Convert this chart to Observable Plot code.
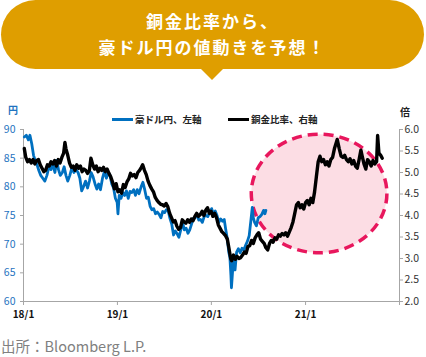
<!DOCTYPE html>
<html><head><meta charset="utf-8">
<script src="https://cdn.jsdelivr.net/npm/d3@7"></script>
<script src="https://cdn.jsdelivr.net/npm/@observablehq/plot@0.6"></script>
<style>
body{margin:0;background:#fff;font-family:"Noto Sans CJK JP","Noto Sans",sans-serif;}
#wrap{position:relative;width:426px;height:357px;overflow:hidden;}
#bubble{position:absolute;left:1px;top:0;width:423px;height:69px;background:#DF9E00;border-radius:35px;color:#fff;font-weight:700;font-size:17px;letter-spacing:2px;text-align:center;line-height:26px;padding-top:8px;box-sizing:border-box;}
#ptr{position:absolute;left:200px;top:68px;width:0;height:0;border-left:12px solid transparent;border-right:12px solid transparent;border-top:12px solid #DF9E00;}
#chart{position:absolute;left:0;top:100px;}
.lg{position:absolute;font-size:9.5px;font-weight:700;color:#222;line-height:12px;white-space:nowrap;}
.sw{position:absolute;height:3px;}
.unit{position:absolute;font-size:10px;font-weight:700;line-height:12px;}
#cap{position:absolute;left:1px;top:337px;font-size:14.5px;color:#808080;line-height:18px;white-space:nowrap;}
</style></head>
<body>
<div id="wrap">
  <div id="bubble">銅金比率から、<br>豪ドル円の値動きを予想！</div>
  <div id="ptr"></div>
  <div id="chart"></div>
  <div class="unit" style="left:8px;top:104px;color:#1F73C0">円</div>
  <div class="unit" style="left:400px;top:106px;color:#222">倍</div>
  <div class="sw" style="left:112px;top:118px;width:21px;background:#0070C0"></div>
  <div class="lg" style="left:135px;top:113px" id="lg1"></div>
  <div class="sw" style="left:228px;top:118px;width:21px;background:#000"></div>
  <div class="lg" style="left:251px;top:113px" id="lg2"></div>
  <div id="cap">出所：Bloomberg L.P.</div>
</div>
<script>
// Series names
const seriesNames = ["豪ドル円、左軸", "銅金比率、右軸"];
// AUD/JPY (left axis)
const audDates = ["2018-01-04","2018-01-12","2018-01-20","2018-01-26","2018-02-02","2018-02-09","2018-02-16","2018-02-23","2018-03-02","2018-03-09","2018-03-17","2018-03-25","2018-04-02","2018-04-10","2018-04-18","2018-04-25","2018-05-03","2018-05-10","2018-05-17","2018-05-24","2018-06-01","2018-06-08","2018-06-15","2018-06-22","2018-06-30","2018-07-08","2018-07-16","2018-07-24","2018-08-01","2018-08-08","2018-08-15","2018-08-22","2018-08-30","2018-09-07","2018-09-14","2018-09-21","2018-09-28","2018-10-06","2018-10-13","2018-10-20","2018-10-27","2018-11-04","2018-11-12","2018-11-19","2018-11-26","2018-12-03","2018-12-10","2018-12-17","2018-12-24","2018-12-31","2019-01-03","2019-01-08","2019-01-15","2019-01-22","2019-01-29","2019-02-05","2019-02-12","2019-02-19","2019-02-26","2019-03-05","2019-03-12","2019-03-19","2019-03-26","2019-04-03","2019-04-10","2019-04-17","2019-04-24","2019-05-01","2019-05-08","2019-05-15","2019-05-22","2019-05-29","2019-06-05","2019-06-12","2019-06-19","2019-06-26","2019-07-03","2019-07-10","2019-07-17","2019-07-24","2019-07-31","2019-08-07","2019-08-14","2019-08-21","2019-08-28","2019-09-04","2019-09-11","2019-09-18","2019-09-25","2019-10-02","2019-10-09","2019-10-16","2019-10-23","2019-10-30","2019-11-06","2019-11-13","2019-11-20","2019-11-27","2019-12-04","2019-12-11","2019-12-18","2019-12-25","2020-01-02","2020-01-09","2020-01-16","2020-01-23","2020-01-30","2020-02-06","2020-02-13","2020-02-20","2020-02-26","2020-03-02","2020-03-09","2020-03-13","2020-03-17","2020-03-19","2020-03-23","2020-03-27","2020-04-02","2020-04-08","2020-04-15","2020-04-22","2020-04-29","2020-05-06","2020-05-13","2020-05-20","2020-05-27","2020-06-03","2020-06-08","2020-06-12","2020-06-17","2020-06-24","2020-07-01","2020-07-08","2020-07-15","2020-07-22","2020-07-27","2020-07-31"];
const audValues = [88.7,89.0,88.2,89.0,87.5,85.5,84.5,83.8,82.8,82.0,81.5,81.0,82.0,83.5,83.0,84.0,82.5,84.6,83.0,82.0,82.5,83.5,82.0,81.0,82.0,83.3,82.5,83.0,82.5,81.5,79.3,80.0,81.0,79.8,81.0,82.5,81.8,80.5,79.6,80.5,79.5,81.5,82.8,81.5,82.5,82.0,80.5,79.8,78.0,77.3,75.3,78.5,78.0,79.0,78.5,79.3,78.0,79.2,79.0,79.5,78.5,79.5,78.8,80.0,80.8,79.5,78.0,78.2,76.6,76.0,76.2,75.3,75.6,75.2,74.6,75.7,75.5,76.0,75.9,74.5,73.5,71.6,72.3,71.8,71.2,72.5,73.8,72.5,72.8,71.9,72.5,73.5,74.5,74.6,75.3,74.2,74.3,73.8,74.8,75.0,74.8,75.5,76.2,75.3,75.8,75.0,73.8,74.4,74.0,74.3,72.5,71.2,68.5,67.7,64.5,62.4,65.0,67.8,65.5,68.6,69.2,68.5,69.3,69.0,69.8,70.5,71.5,74.3,76.4,74.6,73.8,73.2,74.6,74.8,75.2,75.9,75.3,75.9];
// Copper/gold ratio (right axis)
const ratioDates = ["2018-01-04","2018-01-10","2018-01-17","2018-01-24","2018-01-31","2018-02-07","2018-02-14","2018-02-21","2018-02-28","2018-03-07","2018-03-14","2018-03-21","2018-03-28","2018-04-04","2018-04-11","2018-04-18","2018-04-25","2018-05-02","2018-05-09","2018-05-16","2018-05-23","2018-05-30","2018-06-06","2018-06-11","2018-06-15","2018-06-22","2018-06-29","2018-07-06","2018-07-13","2018-07-20","2018-07-27","2018-08-03","2018-08-10","2018-08-17","2018-08-24","2018-08-31","2018-09-07","2018-09-14","2018-09-20","2018-09-27","2018-10-04","2018-10-11","2018-10-18","2018-10-25","2018-11-01","2018-11-08","2018-11-15","2018-11-22","2018-11-29","2018-12-06","2018-12-13","2018-12-20","2018-12-27","2019-01-03","2019-01-10","2019-01-17","2019-01-24","2019-01-31","2019-02-07","2019-02-14","2019-02-21","2019-02-28","2019-03-07","2019-03-14","2019-03-21","2019-03-28","2019-04-04","2019-04-09","2019-04-16","2019-04-23","2019-04-30","2019-05-07","2019-05-14","2019-05-21","2019-05-28","2019-06-04","2019-06-11","2019-06-18","2019-06-25","2019-07-02","2019-07-09","2019-07-16","2019-07-23","2019-07-30","2019-08-06","2019-08-13","2019-08-20","2019-08-27","2019-09-03","2019-09-10","2019-09-17","2019-09-24","2019-10-01","2019-10-08","2019-10-15","2019-10-22","2019-10-29","2019-11-05","2019-11-12","2019-11-19","2019-11-26","2019-12-03","2019-12-10","2019-12-17","2019-12-24","2019-12-31","2020-01-07","2020-01-14","2020-01-21","2020-01-28","2020-02-04","2020-02-11","2020-02-18","2020-02-25","2020-03-03","2020-03-09","2020-03-16","2020-03-20","2020-03-27","2020-04-03","2020-04-10","2020-04-17","2020-04-24","2020-05-01","2020-05-08","2020-05-15","2020-05-22","2020-05-29","2020-06-05","2020-06-12","2020-06-19","2020-06-26","2020-07-03","2020-07-10","2020-07-17","2020-07-24","2020-07-31","2020-08-07","2020-08-14","2020-08-21","2020-08-28","2020-09-04","2020-09-11","2020-09-18","2020-09-25","2020-10-02","2020-10-09","2020-10-16","2020-10-23","2020-10-30","2020-11-06","2020-11-13","2020-11-20","2020-11-27","2020-12-04","2020-12-11","2020-12-18","2020-12-25","2021-01-01","2021-01-08","2021-01-15","2021-01-22","2021-01-29","2021-02-05","2021-02-12","2021-02-19","2021-02-26","2021-03-05","2021-03-12","2021-03-19","2021-03-26","2021-04-02","2021-04-09","2021-04-16","2021-04-23","2021-05-04","2021-05-12","2021-05-19","2021-05-26","2021-06-02","2021-06-09","2021-06-16","2021-06-23","2021-06-30","2021-07-07","2021-07-14","2021-07-21","2021-07-28","2021-08-04","2021-08-09","2021-08-16","2021-08-23","2021-08-30","2021-09-06","2021-09-13","2021-09-20","2021-09-27","2021-10-04","2021-10-08","2021-10-13","2021-10-20","2021-10-26"];
const ratioValues = [5.56,5.35,5.25,5.30,5.22,5.30,5.20,5.28,5.30,5.18,5.10,5.02,5.05,5.18,5.15,5.25,5.20,5.28,5.15,5.30,5.22,5.35,5.45,5.70,5.55,5.40,5.22,5.12,5.15,5.05,5.18,5.10,5.15,5.02,5.08,5.05,4.98,5.05,5.33,5.18,5.08,5.15,5.02,5.10,5.05,5.12,5.02,5.08,4.98,4.90,4.78,4.62,4.74,4.55,4.60,4.52,4.72,4.65,4.78,4.85,4.98,4.92,4.95,4.88,5.00,5.05,5.12,5.18,5.05,4.95,4.80,4.70,4.62,4.55,4.42,4.35,4.30,4.26,4.25,4.22,4.28,4.20,4.05,3.95,3.85,3.88,3.75,3.68,3.72,3.90,3.85,3.82,3.90,3.84,3.92,3.88,3.98,4.05,3.98,4.02,4.10,4.00,4.12,4.18,4.05,4.10,3.98,4.05,3.95,3.78,3.70,3.62,3.58,3.53,3.45,3.25,3.00,2.95,3.08,2.98,3.05,3.00,3.02,3.08,3.15,3.12,3.28,3.30,3.42,3.35,3.48,3.55,3.60,3.45,3.40,3.35,3.25,3.20,3.35,3.42,3.38,3.48,3.45,3.55,3.52,3.58,3.55,3.60,3.52,3.62,3.72,3.85,4.05,4.25,4.30,4.18,4.25,4.15,4.30,4.35,4.25,4.40,4.30,4.55,4.90,5.25,5.38,5.25,5.30,5.18,5.25,5.15,5.30,5.35,5.55,5.77,5.55,5.38,5.35,5.40,5.30,5.25,5.32,5.20,5.28,5.15,5.10,5.30,5.52,5.38,5.20,5.08,5.30,5.25,5.15,5.28,5.20,5.25,5.86,5.45,5.40,5.33];
// Axis ticks
const leftTicks = [60,65,70,75,80,85,90];
const rightTicks = [2.0,2.5,3.0,3.5,4.0,4.5,5.0,5.5,6.0];
const xTickDates = ["2018-01-01","2019-01-01","2020-01-01","2021-01-01","2022-01-01"];
const xTickLabels = ["18/1","19/1","20/1","21/1",""];
const xDomain = ["2018-01-01","2022-01-01"];
const leftDomain = [60,90];
const rightDomain = [2,6];
// Highlight region (data coordinates)
const hlDates = ["2020-06-06","2021-11-15"];
const hlLeft = [68.4, 89.1];

document.getElementById("lg1").textContent = seriesNames[0];
document.getElementById("lg2").textContent = seriesNames[1];

const toLeft = r => leftDomain[0] + (r - rightDomain[0]) * (leftDomain[1]-leftDomain[0])/(rightDomain[1]-rightDomain[0]);
const fromLeft = v => rightDomain[0] + (v - leftDomain[0]) * (rightDomain[1]-rightDomain[0])/(leftDomain[1]-leftDomain[0]);

const aud = audDates.map((d,i)=>({date:new Date(d), v:audValues[i]}));
const ratio = ratioDates.map((d,i)=>({date:new Date(d), v:ratioValues[i]}));

function ellipseMark(index, scales) {
  const x0 = scales.x(new Date(hlDates[0])), x1 = scales.x(new Date(hlDates[1]));
  const y0 = scales.y(hlLeft[0]), y1 = scales.y(hlLeft[1]);
  const ns = "http://www.w3.org/2000/svg";
  const e = document.createElementNS(ns, "ellipse");
  e.setAttribute("cx", (x0+x1)/2);
  e.setAttribute("cy", (y0+y1)/2);
  e.setAttribute("rx", Math.abs(x1-x0)/2);
  e.setAttribute("ry", Math.abs(y1-y0)/2);
  e.setAttribute("fill", "#FCDDE4");
  e.setAttribute("stroke", "#E8175D");
  e.setAttribute("stroke-width", 3.5);
  e.setAttribute("stroke-dasharray", "10 6");
  return e;
}

const axisGray = "#A6A6A6";
const chart = Plot.plot({
  width: 426, height: 230,
  marginLeft: 23, marginRight: 27, marginTop: 29, marginBottom: 29,
  style: {fontFamily: '"Noto Sans CJK JP","Noto Sans",sans-serif', background: "transparent", overflow: "visible"},
  x: {type: "utc", domain: xDomain.map(d=>new Date(d))},
  y: {domain: leftDomain},
  marks: [
    ellipseMark,
    Plot.ruleX([new Date(xDomain[0]), new Date(xDomain[1])], {stroke: axisGray, strokeWidth: 1}),
    Plot.ruleY([leftDomain[0]], {stroke: axisGray, strokeWidth: 1}),
    Plot.axisY({ticks: leftTicks, tickSize: 3, tickPadding: 5, stroke: axisGray, fill: "#1F73C0", fontSize: 10.5, label: null}),
    Plot.axisY({anchor: "right", ticks: rightTicks.map(toLeft), tickFormat: v => fromLeft(v).toFixed(1), tickSize: 3, tickPadding: 2, stroke: axisGray, fill: "#333", fontSize: 10.5, label: null}),
    Plot.axisX({ticks: xTickDates.map(d=>new Date(d)), tickFormat: (d,i) => xTickLabels[i], tickSize: 4, tickPadding: 5, stroke: axisGray, fill: "#111", fontSize: 10, fontWeight: "bold", label: null}),
    Plot.lineY(aud, {x: "date", y: "v", stroke: "#0070C0", strokeWidth: 2.8}),
    Plot.lineY(ratio, {x: "date", y: d => toLeft(d.v), stroke: "#000", strokeWidth: 3.4})
  ]
});
document.getElementById("chart").appendChild(chart);
</script>
</body></html>
